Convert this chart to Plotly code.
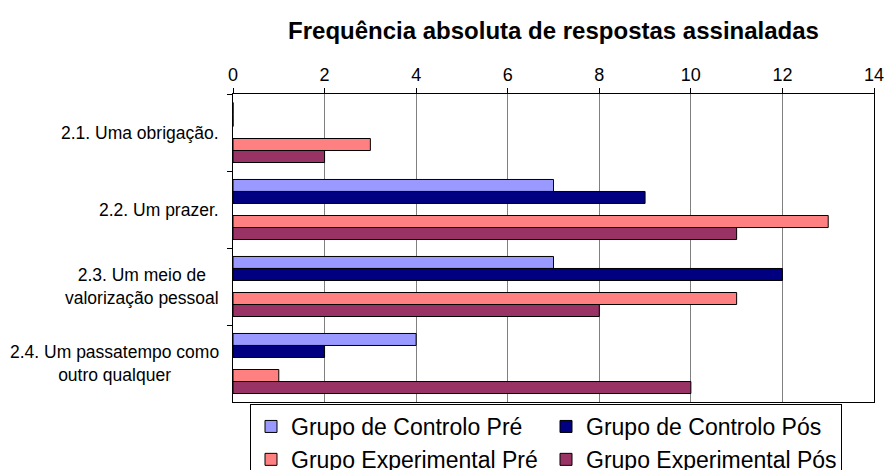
import plotly.graph_objects as go

categories = ["2.1. Uma obrigação.", "2.2. Um prazer.",
              "2.3. Um meio de<br>valorização pessoal",
              "2.4. Um passatempo como<br>outro qualquer"]
controlo_pre = [0, 7, 7, 4]
controlo_pos = [0, 9, 12, 2]
experimental_pre = [3, 13, 11, 1]
experimental_pos = [2, 11, 8, 10]

series = [
    ("Grupo de Controlo Pré", controlo_pre, "#9999FF"),
    ("Grupo de Controlo Pós", controlo_pos, "#000080"),
    (None, [0, 0, 0, 0], "rgba(0,0,0,0)"),  # empty slot between groups
    ("Grupo Experimental Pré", experimental_pre, "#FF8080"),
    ("Grupo Experimental Pós", experimental_pos, "#993366"),
]

fig = go.Figure()
for name, vals, color in series:
    fig.add_trace(go.Bar(
        y=categories, x=vals, orientation="h", name=name or "",
        showlegend=name is not None,
        marker=dict(color=color,
                    line=dict(color="black", width=1 if name else 0)),
    ))

for cat in categories:
    fig.add_annotation(x=0, xref="paper", y=cat, yref="y", text=cat,
                       xanchor="right", align="center", showarrow=False,
                       xshift=-12, font=dict(size=17.5, color="black"))

fig.update_layout(
    width=889, height=470,
    margin=dict(l=233, r=15, t=94, b=68),
    paper_bgcolor="white", plot_bgcolor="white",
    font=dict(family="Liberation Sans, Arial, sans-serif", color="black"),
    barmode="group", bargap=0.22, bargroupgap=0,
    title=dict(text="<b>Frequência absoluta de respostas assinaladas</b>",
               x=0.5, xref="paper", y=0.934, yanchor="middle",
               font=dict(size=24, color="black")),
    legend=dict(orientation="h", xref="container", yref="container",
                x=250 / 889, y=1 - 404 / 470, xanchor="left", yanchor="top",
                bordercolor="black", borderwidth=1, bgcolor="white",
                font=dict(size=23), entrywidth=250, traceorder="normal",
                tracegroupgap=0),
)
fig.update_xaxes(side="top", range=[0, 14], dtick=2, showgrid=True,
                 gridcolor="#808080", gridwidth=1, showline=True,
                 linecolor="black", linewidth=1, mirror=True,
                 ticks="outside", ticklen=5, tickcolor="black",
                 tickfont=dict(size=18), zeroline=False, automargin=False)
fig.update_yaxes(autorange="reversed", showline=True, linecolor="black",
                 linewidth=1, mirror=True, ticks="outside", ticklen=5,
                 tickcolor="black", tickson="boundaries",
                 showticklabels=False, showgrid=False, automargin=False)

# drop the page's default body margin so the figure sits at the window corner
fig.write_html("out.html", config={"displayModeBar": False},
               post_script="document.body.style.margin='0';")
